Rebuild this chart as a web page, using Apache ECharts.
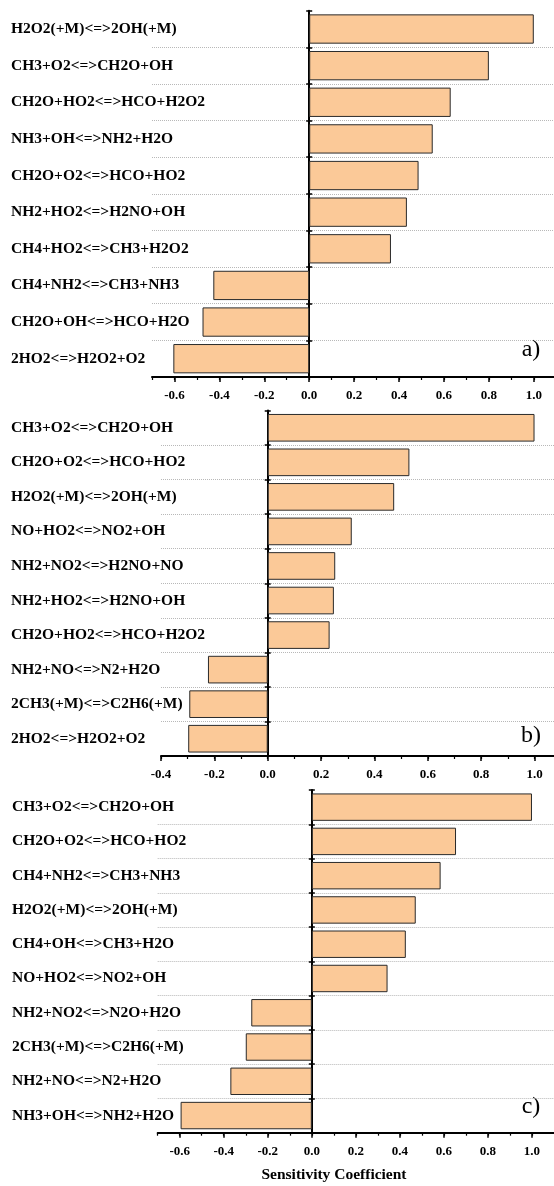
<!DOCTYPE html>
<html><head><meta charset="utf-8">
<script src="https://cdn.jsdelivr.net/npm/echarts@6/dist/echarts.min.js"></script>
<style>html,body{margin:0;padding:0;background:#fff}#c{width:554px;height:1186px}</style>
</head><body><div id="c"></div><script>
const catsA = ['H2O2(+M)<=>2OH(+M)','CH3+O2<=>CH2O+OH','CH2O+HO2<=>HCO+H2O2','NH3+OH<=>NH2+H2O','CH2O+O2<=>HCO+HO2','NH2+HO2<=>H2NO+OH','CH4+HO2<=>CH3+H2O2','CH4+NH2<=>CH3+NH3','CH2O+OH<=>HCO+H2O','2HO2<=>H2O2+O2'];
const valsA = [1.0, 0.80, 0.63, 0.55, 0.487, 0.435, 0.364, -0.427, -0.475, -0.605];
const catsB = ['CH3+O2<=>CH2O+OH','CH2O+O2<=>HCO+HO2','H2O2(+M)<=>2OH(+M)','NO+HO2<=>NO2+OH','NH2+NO2<=>H2NO+NO','NH2+HO2<=>H2NO+OH','CH2O+HO2<=>HCO+H2O2','NH2+NO<=>N2+H2O','2CH3(+M)<=>C2H6(+M)','2HO2<=>H2O2+O2'];
const valsB = [1.0, 0.531, 0.474, 0.315, 0.253, 0.248, 0.232, -0.224, -0.294, -0.298];
const catsC = ['CH3+O2<=>CH2O+OH','CH2O+O2<=>HCO+HO2','CH4+NH2<=>CH3+NH3','H2O2(+M)<=>2OH(+M)','CH4+OH<=>CH3+H2O','NO+HO2<=>NO2+OH','NH2+NO2<=>N2O+H2O','2CH3(+M)<=>C2H6(+M)','NH2+NO<=>N2+H2O','NH3+OH<=>NH2+H2O'];
const valsC = [1.0, 0.655, 0.585, 0.472, 0.427, 0.344, -0.275, -0.30, -0.37, -0.596];

const majorTicksA = [-0.6, -0.4, -0.2, 0.0, 0.2, 0.4, 0.6, 0.8, 1.0];
const minorTicksA = [-0.7, -0.6, -0.5, -0.4, -0.3, -0.2, -0.1, 0.0, 0.1, 0.2, 0.3, 0.4, 0.5, 0.6, 0.7, 0.8, 0.9, 1.0];
const majorTicksB = [-0.4, -0.2, 0.0, 0.2, 0.4, 0.6, 0.8, 1.0];
const minorTicksB = [-0.4, -0.3, -0.2, -0.1, 0.0, 0.1, 0.2, 0.3, 0.4, 0.5, 0.6, 0.7, 0.8, 0.9, 1.0];
const majorTicksC = [-0.6, -0.4, -0.2, 0.0, 0.2, 0.4, 0.6, 0.8, 1.0];
const minorTicksC = [-0.7, -0.6, -0.5, -0.4, -0.3, -0.2, -0.1, 0.0, 0.1, 0.2, 0.3, 0.4, 0.5, 0.6, 0.7, 0.8, 0.9, 1.0];

const axisTitle = 'Sensitivity Coefficient';
const panelTags = ['a)', 'b)', 'c)'];

const panels = [
  {cats: catsA, vals: valsA, major: majorTicksA, minor: minorTicksA, min: -0.7, max: 1.09,
   grid: {left: 152, top: 10.7, width: 402, height: 366.3}, labelLeft: 11, tag: {x: 531, y: 350}},
  {cats: catsB, vals: valsB, major: majorTicksB, minor: minorTicksB, min: -0.4, max: 1.073,
   grid: {left: 161, top: 410.5, width: 393, height: 345.5}, labelLeft: 11, tag: {x: 531, y: 736}},
  {cats: catsC, vals: valsC, major: majorTicksC, minor: minorTicksC, min: -0.7, max: 1.1,
   grid: {left: 157.7, top: 790, width: 396.3, height: 342.7}, labelLeft: 12, tag: {x: 531, y: 1107}}
];

const SERIF = '"Liberation Serif", "Times New Roman", serif';
const grids = [], xAxes = [], yAxes = [], series = [], graphics = [];

panels.forEach((p, i) => {
  grids.push(Object.assign({containLabel: false}, p.grid));
  const xMain = xAxes.length;
  xAxes.push({
    type: 'value', gridIndex: i, min: p.min, max: p.max, position: 'bottom',
    axisLine: {show: true, onZero: false, lineStyle: {color: '#000', width: 2}},
    axisTick: {show: true, customValues: p.major, length: 5, lineStyle: {color: '#000', width: 1.5}},
    axisLabel: {show: true, customValues: p.major, margin: 12,
      formatter: v => v.toFixed(1),
      fontFamily: SERIF, fontWeight: 'bold', fontSize: 13, color: '#000'},
    splitLine: {show: false}
  });
  xAxes.push({
    type: 'value', gridIndex: i, min: p.min, max: p.max, position: 'bottom',
    axisLine: {show: false}, axisLabel: {show: false}, splitLine: {show: false},
    axisTick: {show: true, customValues: p.minor, length: 3, lineStyle: {color: '#000', width: 1.2}}
  });
  const yLab = yAxes.length;
  yAxes.push({
    type: 'category', gridIndex: i, data: p.cats, inverse: true, position: 'left',
    axisLine: {show: false, onZero: false}, axisTick: {show: false},
    axisLabel: {show: true, align: 'left', margin: p.grid.left - p.labelLeft,
      padding: [0, 0, 4, 0],
      fontFamily: SERIF, fontWeight: 'bold', fontSize: 15.5, color: '#000'},
    splitLine: {show: true, showMinLine: false, showMaxLine: false,
      lineStyle: {color: '#b8b8b8', type: 'dotted', width: 1}}
  });
  yAxes.push({
    type: 'category', gridIndex: i, data: p.cats, inverse: true, position: 'left',
    axisLine: {show: true, onZero: true, onZeroAxisIndex: xMain, lineStyle: {color: '#000', width: 2}},
    axisTick: {show: true, length: 3, lineStyle: {color: '#000', width: 1.5}},
    axisLabel: {show: false}, splitLine: {show: false}
  });
  yAxes.push({
    type: 'category', gridIndex: i, data: p.cats, inverse: true, position: 'right',
    axisLine: {show: false, onZero: true, onZeroAxisIndex: xMain},
    axisTick: {show: true, length: 3, lineStyle: {color: '#000', width: 1.5}},
    axisLabel: {show: false}, splitLine: {show: false}
  });
  series.push({
    type: 'bar', xAxisIndex: xMain, yAxisIndex: yLab, data: p.vals,
    barCategoryGap: '20%', z: 1,
    itemStyle: {color: '#FBC998', borderColor: '#2a2a2a', borderWidth: 1}
  });
  graphics.push({
    type: 'text', style: {x: p.tag.x, y: p.tag.y, text: panelTags[i],
      fontFamily: SERIF, fontSize: 24, fill: '#000', textAlign: 'center', textVerticalAlign: 'middle'}
  });
});

graphics.push({
  type: 'text', style: {x: 334, y: 1175, text: axisTitle,
    fontFamily: SERIF, fontWeight: 'bold', fontSize: 15.5, fill: '#000', textAlign: 'center', textVerticalAlign: 'middle'}
});

const chart = echarts.init(document.getElementById('c'), null, {renderer: 'canvas'});
chart.setOption({
  backgroundColor: '#fff',
  animation: false,
  grid: grids, xAxis: xAxes, yAxis: yAxes, series: series, graphic: graphics
});
</script></body></html>
